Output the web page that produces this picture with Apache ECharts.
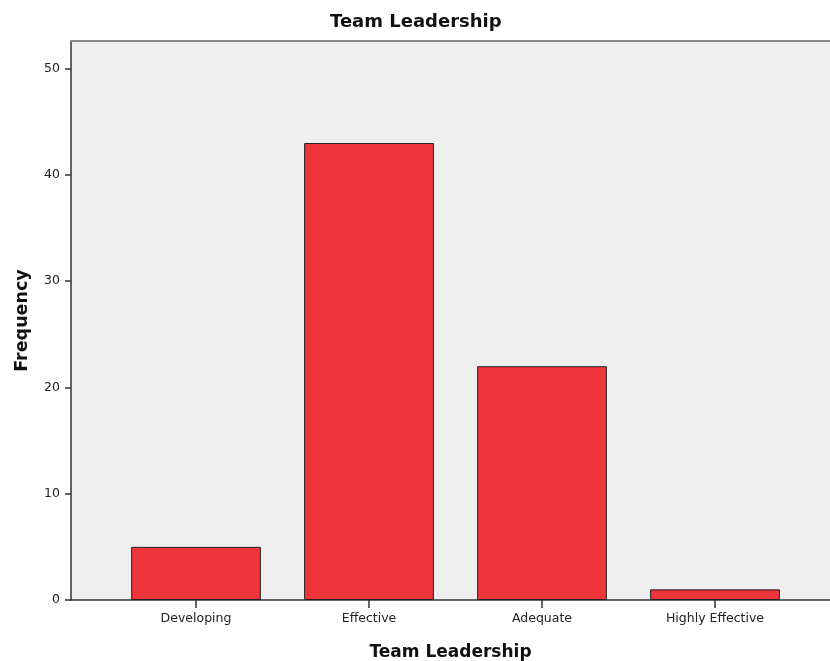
<!DOCTYPE html>
<html>
<head>
<meta charset="utf-8">
<script src="https://cdn.jsdelivr.net/npm/echarts@6/dist/echarts.min.js"></script>
<style>
  html, body { margin: 0; padding: 0; background: #fff; }
  #chart { width: 830px; height: 661px; }
</style>
</head>
<body>
<div id="chart"></div>
<script>
// data
const categories = ["Developing", "Effective", "Adequate", "Highly Effective"];
const frequency = [5, 43, 22, 1];
const yTicks = [0, 10, 20, 30, 40, 50];
const yMax = 52.6;

const font = "DejaVu Sans";
const chart = echarts.init(document.getElementById("chart"));

const option = {
  animation: false,
  textStyle: { fontFamily: font },
  title: {
    text: "Team Leadership",
    left: 330,
    top: 13,
    padding: 0,
    textStyle: { fontFamily: font, fontSize: 18, fontWeight: "bold", color: "#111" },
  },
  grid: [
    // background + y axis
    { left: 71, right: 0, top: 41, bottom: 61, show: true, backgroundColor: "#efefef", borderWidth: 0,
      containLabel: false, outerBoundsMode: "none" },
    // bars (inner band with padding like SPSS)
    { left: 109.5, right: 28.5, top: 41, bottom: 61, containLabel: false, outerBoundsMode: "none" },
  ],
  xAxis: [
    {
      gridIndex: 0,
      type: "value",
      min: 0,
      max: 1,
      axisLine: { show: true, onZero: false, lineStyle: { color: "#333", width: 1.5 } },
      axisTick: { show: false },
      axisLabel: { show: false },
      splitLine: { show: false },
      name: "Team Leadership",
      nameLocation: "middle",
      nameGap: 44,
      nameTextStyle: { fontFamily: font, fontSize: 17, fontWeight: "bold", color: "#111" },
    },
    {
      // top border line
      gridIndex: 0,
      type: "value",
      position: "top",
      min: 0,
      max: 1,
      axisLine: { show: true, onZero: false, lineStyle: { color: "#8a8a8a", width: 2 } },
      axisTick: { show: false },
      axisLabel: { show: false },
      splitLine: { show: false },
    },
    {
      gridIndex: 1,
      type: "category",
      data: categories,
      axisLine: { show: false },
      axisTick: { show: true, alignWithLabel: true, length: 8, lineStyle: { color: "#333", width: 1.5 } },
      axisLabel: { fontFamily: font, fontSize: 12.5, color: "#222", margin: 12 },
    },
  ],
  yAxis: [
    {
      gridIndex: 0,
      type: "value",
      min: 0,
      max: yMax,
      interval: 10,
      axisLine: { show: true, lineStyle: { color: "#333", width: 1.5 } },
      axisTick: { show: true, length: 6, lineStyle: { color: "#333", width: 1.5 }, customValues: yTicks },
      axisLabel: { fontFamily: font, fontSize: 12.5, color: "#222", margin: 11, customValues: yTicks },
      splitLine: { show: false },
      name: "Frequency",
      nameLocation: "middle",
      nameRotate: 90,
      nameGap: 40,
      nameTextStyle: { fontFamily: font, fontSize: 17.5, fontWeight: "bold", color: "#111" },
    },
    {
      gridIndex: 1,
      type: "value",
      min: 0,
      max: yMax,
      show: false,
      splitLine: { show: false },
    },
  ],
  series: [
    {
      type: "bar",
      xAxisIndex: 2,
      yAxisIndex: 1,
      data: frequency,
      barCategoryGap: "25%",
      itemStyle: { color: "#ef353c", borderColor: "#222", borderWidth: 1 },
    },
  ],
};

chart.setOption(option);
</script>
</body>
</html>
